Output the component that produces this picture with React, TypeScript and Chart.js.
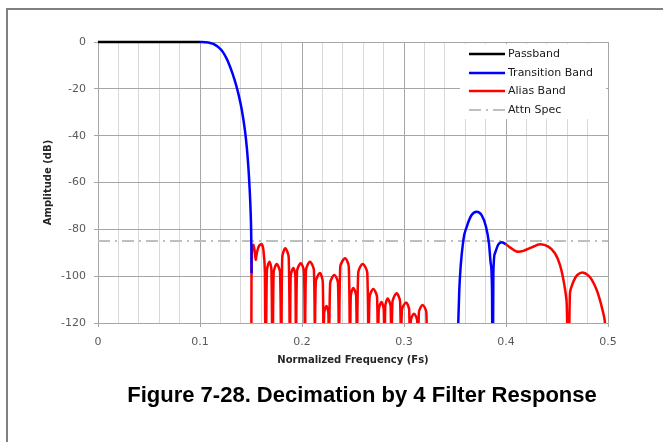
import React, { useEffect, useRef } from "react";
import { Chart, registerables } from "chart.js";

Chart.register(...registerables);

const seriesNames = ["Passband", "Transition Band", "Alias Band", "Attn Spec"];
const seriesColors = ["#000000", "#0000ff", "#ff0000", "#bfbfbf"];

const passbandFreq = [0, 0.1];
const passbandDb = [0, 0];

const transitionFreq = [
  0.1, 0.105, 0.11, 0.114, 0.118, 0.122, 0.126, 0.129, 0.132, 0.135, 0.138,
  0.141, 0.144, 0.146, 0.1475, 0.1487, 0.1496, 0.1502, 0.1506,
  0.25,
  0.3505, 0.3542, 0.3582, 0.3615, 0.3663, 0.3712, 0.3761, 0.3804, 0.3833, 0.385,
  0.3863, 0.3869, 0.3876, 0.3892, 0.3925, 0.3958, 0.3997,
];
const transitionDb = [
  0, -0.1, -0.4, -1.0, -2.2, -4, -7, -10, -13.6, -17.8, -22.8,
  -29, -37.5, -45.5, -54, -63, -72, -82, -98.8,
  null,
  -160, -105.9, -84.6, -78.9, -73.9, -72.5, -73.9, -78.9, -86, -94.5,
  -105.9, -160, -98.8, -90.2, -86.4, -85.5, -86.3,
];

const aliasFreq = [
  0.1503, 0.1505, 0.1512, 0.1522, 0.1535, 0.1546, 0.156, 0.158, 0.1605, 0.1622, 0.1636,
  0.1644, 0.1656, 0.168, 0.17,
  0.1713, 0.1722, 0.1752, 0.1785,
  0.1797, 0.1806, 0.1836, 0.187,
  0.1882, 0.1889, 0.1915, 0.1935,
  0.1941, 0.1951, 0.1987, 0.202,
  0.2029, 0.2039, 0.2078, 0.2117,
  0.2127, 0.2135, 0.2176, 0.2204,
  0.2211, 0.2217, 0.224, 0.2259,
  0.2265, 0.2276, 0.2317, 0.2353,
  0.2363, 0.2375, 0.2422, 0.2459,
  0.2471, 0.2478, 0.2503, 0.2531,
  0.2539, 0.2551, 0.2595, 0.264,
  0.2652, 0.2662, 0.2699, 0.2736,
  0.2745, 0.2752, 0.2779, 0.2802,
  0.2809, 0.2816, 0.284, 0.2869,
  0.2877, 0.2887, 0.2928, 0.2962,
  0.2971, 0.2979, 0.302, 0.3051,
  0.3059, 0.3067, 0.3098, 0.3129,
  0.3137, 0.3146, 0.3183, 0.3219, 0.3228,
  0.36,
  0.3997, 0.4039, 0.4105, 0.417, 0.4252, 0.4333, 0.4415, 0.448, 0.4529, 0.4569, 0.4595,
  0.4614, 0.4627, 0.466, 0.4699, 0.4758, 0.4824, 0.4889, 0.4938, 0.497, 0.4975,
];
const aliasDb = [
  -160, -97, -87.5, -86.6, -89, -93, -89.5, -87, -86.3, -89, -98,
  -160, -97.5, -93.8, -97,
  -160, -98.5, -94.8, -98.5,
  -160, -92, -88.1, -92,
  -160, -100, -96.5, -100,
  -160, -98, -94.5, -98,
  -160, -97.5, -93.8, -97.5,
  -160, -102.5, -98.7, -102.5,
  -160, -116, -112.7, -116,
  -160, -103, -99.5, -103,
  -160, -96, -92.4, -96,
  -160, -108.5, -105, -108.5,
  -160, -98.5, -94.8, -98.5,
  -160, -109, -105.5, -109,
  -160, -114.5, -111, -114.5,
  -160, -113, -109.5, -113,
  -160, -111, -107.3, -111,
  -160, -114.5, -111.2, -114.5,
  -160, -119, -116, -119,
  -160, -115.5, -112.3, -115.5, -160,
  null,
  -86.3, -87.7, -89.5, -89.2, -87.7, -86.4, -87.4, -90.2, -95.2, -103, -111.6,
  -160, -107.3, -102.4, -99.5, -98.5, -100.5, -105.9, -113, -120, -160,
];

const attnSpecFreq = [0, 0.5];
const attnSpecDb = [-85, -85];

const xTickLabels = ["0", "0.1", "0.2", "0.3", "0.4", "0.5"];
const yTickLabels = ["-120", "-100", "-80", "-60", "-40", "-20", "0"];

const toPoints = (xs: number[], ys: (number | null)[]) =>
  xs.map((x, i) => ({ x, y: ys[i] }));

const isMajor = (v: number) => Math.abs(v * 10 - Math.round(v * 10)) < 1e-6;

const boxLegend = {
  id: "boxLegend",
  afterDraw(chart: any) {
    const { ctx, chartArea } = chart;
    const x0 = chartArea.right - 148;
    const y0 = chartArea.top + 2;
    ctx.save();
    ctx.fillStyle = "#ffffff";
    ctx.fillRect(x0, y0, 146, 75);
    chart.data.datasets.forEach((ds: any, i: number) => {
      const y = Math.round(y0 + 10 + i * 18.5);
      ctx.beginPath();
      ctx.setLineDash(ds.borderDash || []);
      ctx.strokeStyle = ds.borderColor;
      ctx.lineWidth = ds.borderWidth;
      ctx.moveTo(x0 + 9, y);
      ctx.lineTo(x0 + 45, y);
      ctx.stroke();
      ctx.setLineDash([]);
      ctx.fillStyle = "#1a1a1a";
      ctx.font = '11px "DejaVu Sans"';
      ctx.textBaseline = "middle";
      ctx.textAlign = "left";
      ctx.fillText(ds.label, x0 + 48, y);
    });
    ctx.restore();
  },
};

export default function App() {
  const ref = useRef<HTMLCanvasElement>(null);
  useEffect(() => {
    const lineBase = {
      pointRadius: 0,
      pointHoverRadius: 0,
      spanGaps: false,
      tension: 0.3,
      clip: { left: 5, top: 5, right: 5, bottom: 0 },
    };
    const chart = new Chart(ref.current!, {
      type: "line",
      data: {
        datasets: [
          { ...lineBase, label: seriesNames[0], data: toPoints(passbandFreq, passbandDb), borderColor: seriesColors[0], borderWidth: 2.5, tension: 0 },
          { ...lineBase, label: seriesNames[1], data: toPoints(transitionFreq, transitionDb), borderColor: seriesColors[1], borderWidth: 2.5, cubicInterpolationMode: "monotone" },
          { ...lineBase, label: seriesNames[2], data: toPoints(aliasFreq, aliasDb), borderColor: seriesColors[2], borderWidth: 2.5 },
          { ...lineBase, label: seriesNames[3], data: toPoints(attnSpecFreq, attnSpecDb), borderColor: seriesColors[3], borderWidth: 2, borderDash: [12, 5, 2, 5], tension: 0 },
        ] as any,
      },
      options: {
        responsive: false,
        animation: false,
        devicePixelRatio: 1,
        events: [],
        layout: { padding: { left: 42, top: 42, right: 55, bottom: 76 } },
        plugins: { legend: { display: false }, tooltip: { enabled: false }, title: { display: false } },
        scales: {
          x: {
            type: "linear",
            min: 0,
            max: 0.5,
            afterFit: (s: any) => { s.height = 43; },
            ticks: {
              stepSize: 0.02,
              autoSkip: false,
              maxTicksLimit: 100,
              maxRotation: 0,
              minRotation: 0,
              padding: 9,
              color: "#595959",
              font: { family: "DejaVu Sans", size: 11 },
              callback: (v: any) => (isMajor(Number(v)) ? xTickLabels[Math.round(Number(v) * 10)] : ""),
            },
            grid: {
              color: (c: any) => (isMajor(c.tick?.value ?? 0) ? "#a6a6a6" : "#d9d9d9"),
              tickColor: (c: any) => (isMajor(c.tick?.value ?? 0) ? "#a6a6a6" : "rgba(0,0,0,0)"),
              tickLength: 4,
              lineWidth: 1,
            },
            border: { display: true, color: "#a6a6a6", width: 1 },
            title: {
              display: true,
              text: "Normalized Frequency (Fs)",
              color: "#262626",
              font: { family: "DejaVu Sans", size: 10, weight: "bold" },
              padding: 0,
            },
          },
          y: {
            type: "linear",
            min: -120,
            max: 0,
            afterFit: (s: any) => { s.width = 56; },
            ticks: {
              stepSize: 20,
              padding: 8,
              color: "#595959",
              font: { family: "DejaVu Sans", size: 11 },
              callback: (v: any) => yTickLabels[Math.round((Number(v) + 120) / 20)],
            },
            grid: { color: "#a6a6a6", tickColor: "#a6a6a6", tickLength: 4, lineWidth: 1 },
            border: { display: true, color: "#a6a6a6", width: 1 },
            title: {
              display: true,
              text: "Amplitude (dB)",
              color: "#262626",
              font: { family: "DejaVu Sans", size: 10, weight: "bold" },
              padding: 0,
            },
          },
        },
      } as any,
      plugins: [boxLegend],
    });
    return () => chart.destroy();
  }, []);

  return (
    <div style={{ position: "fixed", left: 0, top: 0, width: 663, height: 442, background: "#ffffff", overflow: "hidden" }}>
      <div style={{ position: "absolute", left: 6, top: 8, width: 720, height: 520, border: "2px solid #808080", boxSizing: "border-box" }} />
      <canvas ref={ref} width={663} height={442} style={{ position: "absolute", left: 0, top: 0, width: 663, height: 442 }} />
      <div
        style={{
          position: "absolute",
          left: 362,
          top: 384,
          transform: "translateX(-50%)",
          whiteSpace: "nowrap",
          fontFamily: '"Liberation Sans", Arial, sans-serif',
          fontWeight: "bold",
          fontSize: 22,
          lineHeight: "22px",
          color: "#000000",
        }}
      >
        Figure 7-28. Decimation by 4 Filter Response
      </div>
    </div>
  );
}
